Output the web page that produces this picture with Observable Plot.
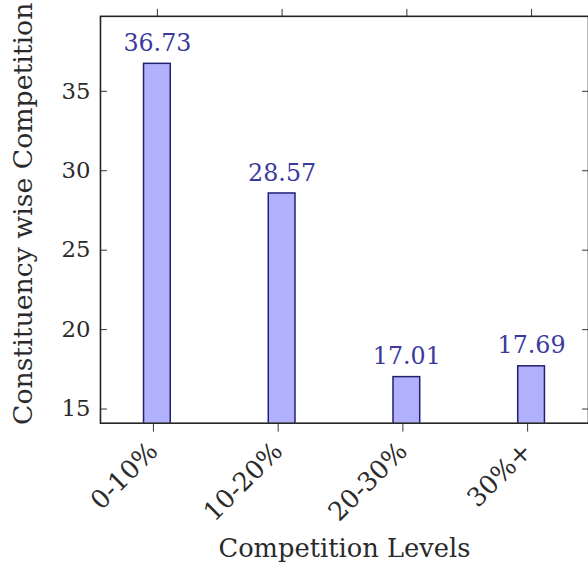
<!DOCTYPE html>
<html>
<head>
<meta charset="utf-8">
<script src="https://cdn.jsdelivr.net/npm/d3@7"></script>
<script src="https://cdn.jsdelivr.net/npm/@observablehq/plot@0.6"></script>
<style>
  html, body { margin: 0; padding: 0; overflow: hidden; background: #fff; }
  svg { display: block; }
</style>
</head>
<body>
<div id="chart"></div>
<script>
const categories = ["0-10%", "10-20%", "20-30%", "30%+"];
const values = [36.73, 28.57, 17.01, 17.69];
const yTicks = [15, 20, 25, 30, 35];
const xTitle = "Competition Levels";
const yTitle = "Constituency wise Competition";

const data = categories.map((c, i) => ({category: c, value: values[i]}));
const font = "'DejaVu Serif', 'Liberation Serif', serif";
const ink = "#2a2a2a";

const chart = Plot.plot({
  width: 594,
  height: 569,
  marginLeft: 101,
  marginRight: 0,
  marginTop: 16,
  marginBottom: 142,
  style: {fontFamily: font, fontSize: "23px", color: ink, background: "#fff"},
  x: {type: "band", domain: categories, paddingInner: 0.787, paddingOuter: 0.3345, label: null},
  y: {domain: [14.11, 39.72], label: null},
  marks: [
    Plot.barY(data, {x: "category", y: "value", fill: "#b0b0fd", stroke: "#1f1f70", strokeWidth: 1.5, clip: true}),
    Plot.text(data, {x: "category", y: "value", text: d => d.value.toFixed(2), dy: -13, lineAnchor: "bottom", fill: "#3a3a9e", fontSize: 24, fontFamily: font}),
    Plot.axisY({anchor: "left", ticks: yTicks, tickSize: 0, tickPadding: 10, fontSize: 23, label: null, fontFamily: font, fill: ink}),
    Plot.axisY({anchor: "left", ticks: yTicks, tickSize: -7, text: null, label: null, stroke: "#333"}),
    Plot.axisY({anchor: "right", ticks: yTicks, tickSize: -7, text: null, label: null, stroke: "#333"}),
    Plot.axisX({anchor: "bottom", tickSize: 9, tickRotate: -45, tickPadding: 15, dx: -4, fontSize: 26, label: null, stroke: "#333", fontFamily: font, fill: ink}),
    Plot.axisX({anchor: "top", tickSize: 8, text: null, label: null, stroke: "#333"}),
    Plot.frame({stroke: "#222", strokeWidth: 1.6}),
    Plot.text([xTitle], {frameAnchor: "bottom", dy: 135, lineAnchor: "bottom", fontSize: 26, fill: ink, fontFamily: font}),
    Plot.text([yTitle], {frameAnchor: "left", textAnchor: "middle", dx: -88, dy: -6, rotate: -90, lineAnchor: "top", fontSize: 27, fill: ink, fontFamily: font})
  ]
});
document.getElementById("chart").appendChild(chart);
</script>
</body>
</html>
